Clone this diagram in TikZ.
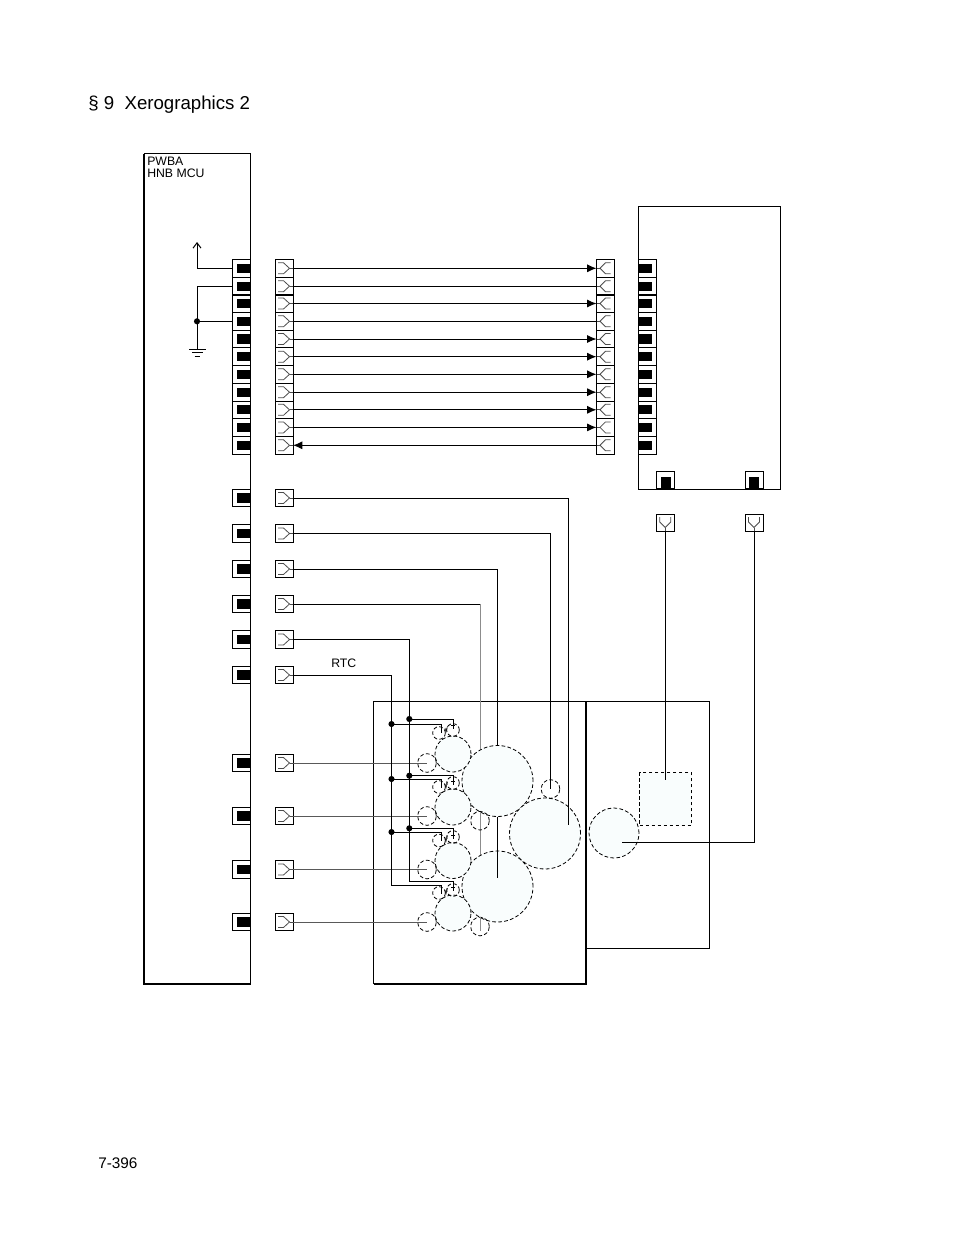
\documentclass[tikz,border=0pt]{standalone}
\usepackage{fontspec}
\setmainfont{Liberation Sans}
\usetikzlibrary{arrows.meta}
\definecolor{cfill}{HTML}{F9FDFD}
\tikzset{
  wire/.style={line width=0.75pt,line join=miter},
  greywire/.style={line width=0.75pt,draw=black!65},
  palewire/.style={line width=0.75pt,draw=black!45},
  housing/.style={draw,line width=0.75pt,minimum width=13.5pt,minimum height=13.2pt,inner sep=0pt,outer sep=0pt},
  updown/.style={draw,line width=0.75pt,minimum width=13.5pt,minimum height=12.75pt,inner sep=0pt,outer sep=0pt},
  pin/.style={fill=black,minimum width=9.75pt,minimum height=7pt,inner sep=0pt,outer sep=0pt},
  vpin/.style={fill=black,minimum width=7.5pt,minimum height=9pt,inner sep=0pt,outer sep=0pt},
  chev/.style={line width=0.6pt,draw=black!70},
  dc/.style={circle,draw,line width=0.6pt,dash pattern=on 2.8pt off 1.7pt,inner sep=0pt,outer sep=0pt},
  bigc/.style={dc,fill=cfill,minimum size=53.25pt},
  midc/.style={dc,fill=cfill,minimum size=27pt},
  lilc/.style={dc,minimum size=14pt},
  tinyc/.style={dc,minimum size=9.5pt},
  dotn/.style={circle,fill=black,minimum size=4.6pt,inner sep=0pt,outer sep=0pt},
  lbl/.style={inner sep=0pt,anchor=west},
  head/.style={-{Latex[length=7pt,width=6pt]}},
}
\begin{document}
\begin{tikzpicture}[x=0.75pt,y=-0.75pt]
\useasboundingbox (0,0) rectangle (954,1235);

\node[lbl,font=\fontsize{14}{16}\selectfont] (title) at (88,105) {§ 9\ \ Xerographics 2};
\node[lbl,font=\fontsize{9.2}{10}\selectfont] (pwba) at (147,161.5) {PWBA};
\node[lbl,font=\fontsize{9.2}{10}\selectfont] (hnb) at (147,173.5) {HNB MCU};
\node[lbl,font=\fontsize{9.2}{10}\selectfont] (rtc) at (331,663.5) {RTC};
\node[lbl,font=\fontsize{11.5}{13}\selectfont] (page) at (98,1163) {7-396};

% main boards
\draw[line width=0.75pt] (144.5,984) -- (144.5,153.7) -- (250.3,153.7) -- (250.3,984);
\draw[line width=1.5pt] (144,153.7) -- (144,984.3) -- (250.8,984.3);
\draw[line width=0.75pt] (638.5,206.7) rectangle (780.5,489.5);
\draw[line width=0.75pt] (586,701.5) -- (709.5,701.5) -- (709.5,948.5) -- (586,948.5);
\draw[line width=0.75pt] (373.5,984) -- (373.5,701.5) -- (586,701.5);
\draw[line width=1.5pt] (373.5,984) -- (586,984) -- (586,701.5);

% ribbon rows
\foreach \i/\y in {1/268.3,2/286.2,3/303.5,4/321.3,5/339,6/356.7,7/374.3,8/392.2,9/409.8,10/427.4,11/445.3}{
  \node[housing] (sa\i) at (241.3,\y) {};
  \node[pin,anchor=east] at (250,\y) {};
  \node[housing] (pa\i) at (284,\y) {};
  \draw[chev] (278,\y-5.5) -- (283.5,\y-5.5) -- (289.5,\y) -- (283.5,\y+5.5) -- (278,\y+5.5);
  \draw[chev] (289.5,\y) -- (pa\i.east);
  \node[housing] (pb\i) at (605.5,\y) {};
  \draw[chev] (610.5,\y-5.5) -- (605.5,\y-5.5) -- (600,\y) -- (605.5,\y+5.5) -- (610.5,\y+5.5);
  \draw[chev] (600,\y) -- (pb\i.west);
  \node[housing] (sb\i) at (647.5,\y) {};
  \node[pin,anchor=west] at (639,\y) {};
}
\foreach \i in {1,3,5,6,7,8,9,10}{\draw[wire,head] (pa\i.east) -- (pb\i.west);}
\foreach \i in {2,4}{\draw[wire] (pa\i.east) -- (pb\i.west);}
\draw[wire,head] (pb11.west) -- (pa11.east);

% single rows
\foreach \i/\y in {1/498,2/533.5,3/569,4/604,5/639.5,6/675,7/763,8/816,9/869.5,10/922}{
  \node[housing] (sc\i) at (241.3,\y) {};
  \node[pin,anchor=east] at (250,\y) {};
  \node[housing] (pc\i) at (284,\y) {};
  \draw[chev] (278,\y-5.5) -- (283.5,\y-5.5) -- (289.5,\y) -- (283.5,\y+5.5) -- (278,\y+5.5);
  \draw[chev] (289.5,\y) -- (pc\i.east);
}

% left power and ground
\coordinate (vcc) at (197,242);
\coordinate (gndtop) at (197,349);
\draw[wire,-{Straight Barb[length=4pt,width=6pt]}] (sa1.west) -| (vcc);
\draw[wire] (sa2.west) -| (gndtop);
\node[dotn] (gdot) at (197,321.3) {};
\draw[wire] (sa4.west) -- (gdot);
\draw[wire] (189,349) -- (206,349) (192,352.8) -- (203,352.8) (194.5,356.8) -- (199.5,356.8);

% vertical sockets
\foreach \n/\x in {1/665.3,2/754}{
  \node[updown] (sv\n) at (\x,480) {};
  \node[vpin,anchor=south] at (\x+0.3,489) {};
  \node[updown] (pv\n) at (\x,522.8) {};
  \draw[chev] (\x-5.5,517) -- (\x-5.5,522) -- (\x,527.5) -- (\x+5.5,522) -- (\x+5.5,517);
  \draw[chev] (\x,527.5) -- (pv\n.south);
}

% wire behind the large circles
\coordinate (corner) at (480,604);
\coordinate (grayend) at (480,880);
\draw[wire] (pc4.east) -- (corner);
\draw[palewire] (corner) -- (grayend);

% circles
\node[bigc] (c1) at (497.5,781) {};
\node[bigc] (c2) at (497.5,886.5) {};
\node[bigc] (c3) at (545,833.5) {};
\node[midc] (m1) at (453,754) {};
\node[midc] (m2) at (453,807) {};
\node[midc] (m3) at (453,860.5) {};
\node[midc] (m4) at (453,913) {};
\node[lilc] (l1) at (427,763) {};
\node[lilc] (l2) at (427,816) {};
\node[lilc] (l3) at (427,869.5) {};
\node[lilc] (l4) at (427,922) {};
\node[lilc] (u1) at (480,820.7) {};
\node[lilc] (u2) at (480,926.5) {};
\node[lilc] (u3) at (550.5,789) {};
\node[tinyc] (ta1) at (439,733) {};
\node[tinyc] (tb1) at (453,730) {};
\node[tinyc] (ta2) at (439,787) {};
\node[tinyc] (tb2) at (453,783) {};
\node[tinyc] (ta3) at (439,840.5) {};
\node[tinyc] (tb3) at (453,837) {};
\node[tinyc] (ta4) at (439,893) {};
\node[tinyc] (tb4) at (453,890) {};
\node[bigc,minimum size=37.5pt] (c4) at (614,833) {};
\node[draw,line width=0.6pt,dash pattern=on 2.8pt off 1.7pt,fill=cfill,minimum width=39pt,minimum height=39.5pt,inner sep=0pt] (sq) at (665.7,799) {};

% wires to the circles
\coordinate (e1) at (568.5,825);
\draw[wire] (pc1.east) -| (e1);
\draw[wire] (pc2.east) -| (u3.center);
\draw[wire] (pc3.east) -| (c1.north);
\coordinate (e2) at (497.5,878);
\draw[wire] (c1.south) -- (e2);
\coordinate (e3) at (480,931);
\draw[palewire] (480,917) -- (e3);
\draw[greywire] (pc7.east) -- (l1.center);
\draw[greywire] (pc8.east) -- (l2.center);
\draw[greywire] (pc9.east) -- (l3.center);
\draw[greywire] (pc10.east) -- (l4.center);
\coordinate (f1) at (665.3,780);
\draw[wire] (pv1.south) -- (f1);
\coordinate (f2) at (622,842);
\draw[wire] (pv2.south) |- (f2);

% bus wires
\coordinate (busa) at (409.3,881.7);
\coordinate (busb) at (391.5,885.5);
\draw[wire] (pc5.east) -| (busa);
\draw[wire] (pc6.east) -| (busb);
\foreach \k/\ya/\yb/\va/\vb in {1/719/724/729/732.5,2/775.7/779/785/788,3/828.3/832/838.5/841,4/881.7/885.5/891/894}{
  \coordinate (tapa\k) at (409.3,\ya);
  \coordinate (tapb\k) at (391.5,\yb);
  \coordinate (enda\k) at (453,\va);
  \coordinate (endb\k) at (441.7,\vb);
  \draw[wire] (tapa\k) -| (enda\k);
  \draw[wire] (tapb\k) -| (endb\k);
  \draw[line width=0.4pt] (451,\va-3.5) -- (455,\va-3.5);
  \draw[line width=0.4pt] (445,\va-1) -- (446,\va+3) -- (447.5,\va-3);
}
\foreach \k in {1,2,3}{
  \node[dotn] (da\k) at (tapa\k) {};
  \node[dotn] (db\k) at (tapb\k) {};
}
\end{tikzpicture}
\end{document}
